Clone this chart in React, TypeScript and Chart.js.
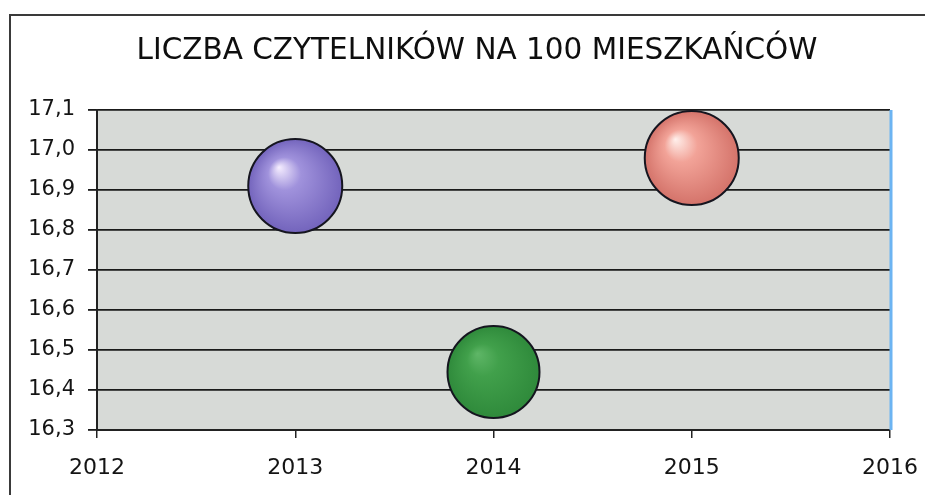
import React, { useEffect, useRef } from "react";
import { Chart, registerables } from "chart.js";

Chart.register(...registerables);

const TITLE = "LICZBA CZYTELNIKÓW NA 100 MIESZKAŃCÓW";
const years = [2013, 2014, 2015];
const readers = [16.91, 16.445, 16.98];
const bubbleSizes = [47, 46, 47];
const highlightColors = ["#f6eeff", "#5fb667", "#fff0ec"];
const midColors = ["#a092dc", "#41a04b", "#f2a398"];
const edgeColors = ["#7364bc", "#2f8a3b", "#d4736a"];
const xMin = 2012;
const xMax = 2016;
const yMin = 16.3;
const yMax = 17.1;

const FONT = "'DejaVu Sans', 'Liberation Sans', Arial, sans-serif";

const framePlugin = {
  id: "frame",
  beforeDraw(chart: any) {
    const { ctx, chartArea, width, height } = chart;
    ctx.save();
    ctx.fillStyle = "#ffffff";
    ctx.fillRect(0, 0, width, height);
    ctx.strokeStyle = "#3a3a3a";
    ctx.lineWidth = 2;
    ctx.beginPath();
    ctx.moveTo(10, height);
    ctx.lineTo(10, 15);
    ctx.lineTo(width, 15);
    ctx.stroke();
    ctx.fillStyle = "#d7dad7";
    ctx.fillRect(chartArea.left, chartArea.top, chartArea.right - chartArea.left, chartArea.bottom - chartArea.top);
    ctx.fillStyle = "#0e0e0e";
    ctx.font = "normal 29.5px " + FONT;
    ctx.textAlign = "center";
    ctx.textBaseline = "middle";
    ctx.fillText(TITLE, 477, 51);
    ctx.restore();
  },
  afterDatasetsDraw(chart: any) {
    const { ctx, chartArea } = chart;
    ctx.save();
    ctx.strokeStyle = "#6cb4f2";
    ctx.lineWidth = 3;
    ctx.beginPath();
    ctx.moveTo(chartArea.right + 1, chartArea.top);
    ctx.lineTo(chartArea.right + 1, chartArea.bottom);
    ctx.stroke();
    ctx.restore();
  },
};

export default function App() {
  const ref = useRef<HTMLCanvasElement | null>(null);

  useEffect(() => {
    if (!ref.current) return;
    const chart = new Chart(ref.current, {
      type: "bubble",
      data: {
        datasets: [
          {
            data: years.map((y, i) => ({ x: y, y: readers[i], r: bubbleSizes[i] })),
            backgroundColor: (c: any) => {
              const ch = c.chart;
              const i = c.dataIndex;
              if (!ch.chartArea || i === undefined || !ch.scales.x) return midColors[i ?? 0];
              const px = ch.scales.x.getPixelForValue(years[i]);
              const py = ch.scales.y.getPixelForValue(readers[i]);
              const r = bubbleSizes[i];
              const g = ch.ctx.createRadialGradient(px - r * 0.35, py - r * 0.4, 0, px, py, r);
              g.addColorStop(0, highlightColors[i]);
              g.addColorStop(0.35, midColors[i]);
              g.addColorStop(1, edgeColors[i]);
              return g;
            },
            borderColor: "#15151f",
            borderWidth: 2,
            hoverBorderWidth: 2,
          },
        ],
      },
      options: {
        animation: false,
        responsive: false,
        events: [],
        layout: { autoPadding: false, padding: { top: 110, left: 10, right: 35, bottom: 5 } },
        plugins: {
          legend: { display: false },
          tooltip: { enabled: false },
          title: { display: false },
        },
        scales: {
          x: {
            type: "linear",
            min: xMin,
            max: xMax,
            afterFit: (s: any) => {
              s.height = 60;
              s.paddingRight = 0;
              s.paddingLeft = 0;
            },
            ticks: {
              stepSize: 1,
              color: "#141414",
              font: { family: FONT, size: 22 },
              padding: 17,
              callback: (v: any) => String(v),
              maxRotation: 0,
            },
            grid: { drawOnChartArea: false, drawTicks: true, tickLength: 8, color: "#222", lineWidth: 1.5 },
            border: { display: true, color: "#222", width: 2 },
          },
          y: {
            type: "linear",
            min: yMin,
            max: yMax,
            afterFit: (s: any) => { s.width = 87; },
            ticks: {
              stepSize: 0.1,
              color: "#141414",
              font: { family: FONT, size: 21 },
              padding: 13,
              callback: (v: any) => Number(v).toFixed(1).replace(".", ","),
            },
            grid: { color: "#1a1a1a", lineWidth: 1.8, tickLength: 9 },
            border: { display: true, color: "#222", width: 2 },
          },
        },
      },
      plugins: [framePlugin],
    } as any);
    return () => chart.destroy();
  }, []);

  return (
    <div style={{ position: "fixed", left: 0, top: 0, width: 925, height: 495, background: "#fff" }}>
      <canvas ref={ref} width={925} height={495} style={{ display: "block" }} />
    </div>
  );
}
